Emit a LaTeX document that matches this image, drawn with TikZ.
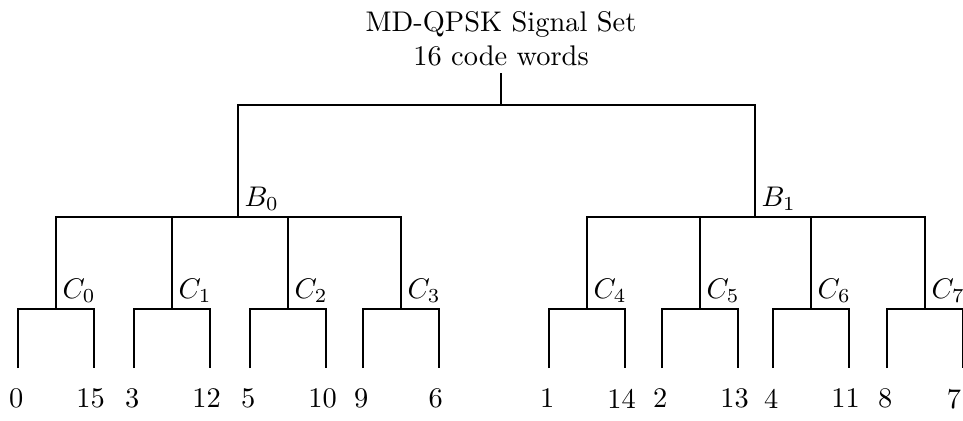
\documentclass[tikz,border=0pt]{standalone}
\usepackage{amsmath,amssymb}
\usepackage{tikz}
\usetikzlibrary{positioning}

\begin{document}
\begin{tikzpicture}[x=0.352pt,y=-0.352pt,line width=0.7pt]
\tikzset{
  leaf/.style={inner sep=1pt,xshift=-0.6pt},
  edgeword/.style={xshift=-2.6pt},
  setlab/.style={anchor=south west,inner sep=2pt}
}
\useasboundingbox (0,0) rectangle (963,420);
\node[align=center,inner sep=2pt] (title) at (501,39) {MD-QPSK Signal Set\\16 code words};
\coordinate (root) at (501,105);
\coordinate (b0) at (238,217);
\coordinate (b1) at (755,217);
\draw (title) -- (root);
\draw (b0) |- (root) -| (b1);
\node[setlab] (lb0) at (b0) {$B_0$};
\node[setlab] (lb1) at (b1) {$B_1$};
% subsets C_i and their two code words
\foreach \i/\x/\a/\b/\o in {0/56/0/15/leaf,1/172/3/12/leaf,2/288/5/10/leaf,3/401/9/6/leaf,
                            4/587/1/14/leaf,5/700/2/13/leaf,6/811/4/11/leaf,7/925/8/7/edgeword} {
  \coordinate (c\i) at (\x,309);
  \node[setlab] (lc\i) at (c\i) {$C_\i$};
  \coordinate (e\a) at (\x-38,368);
  \coordinate (e\b) at (\x+38,368);
  \draw (e\a) |- (c\i) -| (e\b);
  \node[leaf,below=6pt of e\a] (w\a) {\a};
  \node[leaf,below=6pt of e\b,\o] (w\b) {\b};
}
\foreach \i in {0,...,3} \draw (c\i) |- (b0);
\foreach \i in {4,...,7} \draw (c\i) |- (b1);
\end{tikzpicture}
\end{document}
